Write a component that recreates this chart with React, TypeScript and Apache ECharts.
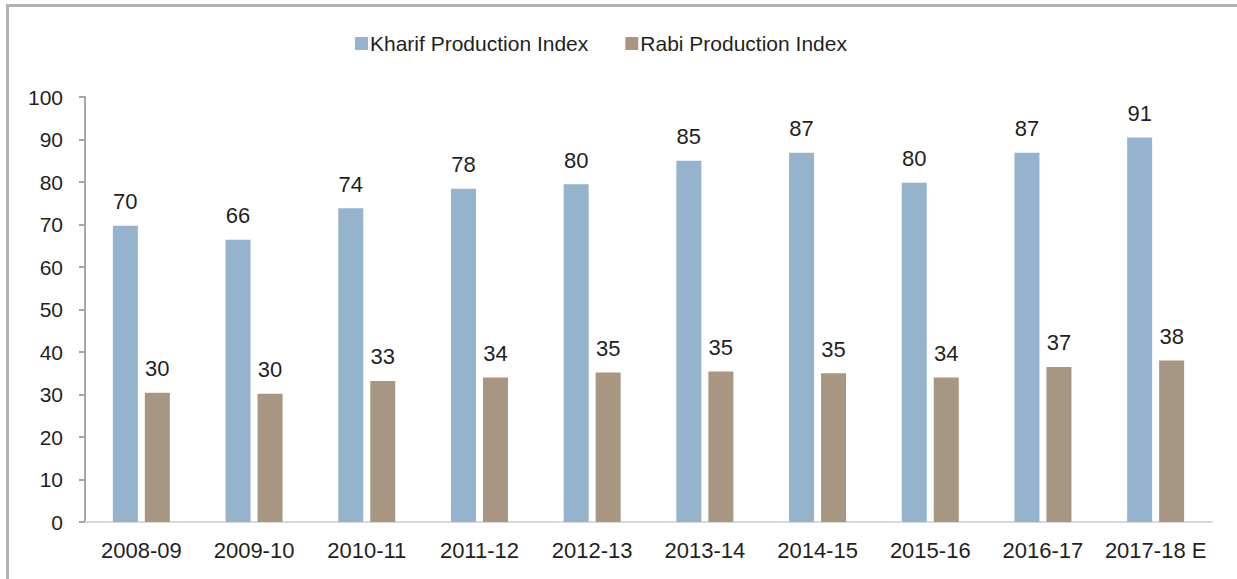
import React, { useEffect, useRef } from "react";
import * as echarts from "echarts";

const categories = ["2008-09", "2009-10", "2010-11", "2011-12", "2012-13", "2013-14", "2014-15", "2015-16", "2016-17", "2017-18 E"];
const kharif = [69.7, 66.4, 73.8, 78.4, 79.5, 85.0, 86.9, 79.8, 86.9, 90.5];
const rabi = [30.4, 30.2, 33.2, 34.0, 35.2, 35.4, 35.0, 34.0, 36.5, 38.0];
const yTicks = [0, 10, 20, 30, 40, 50, 60, 70, 80, 90, 100];

const FONT = "Liberation Sans, Arial, sans-serif";
const TEXT = "#1f1f1f";

export default function App() {
  const ref = useRef<HTMLDivElement>(null);
  useEffect(() => {
    if (!ref.current) return;
    const chart = echarts.init(ref.current, undefined, { renderer: "svg" });
    const label = {
      show: true,
      position: "top",
      distance: 13,
      color: TEXT,
      fontSize: 22,
      fontFamily: FONT,
      formatter: (p: any) => String(Math.round(p.value)),
    };
    chart.setOption({
      animation: false,
      textStyle: { fontFamily: FONT },
      legend: {
        top: 28,
        left: 350,
        itemWidth: 13,
        itemHeight: 13,
        itemGap: 37,
        icon: "rect",
        textStyle: { fontSize: 21, color: TEXT, fontFamily: FONT, padding: [0, 0, 0, -3] },
        data: ["Kharif Production Index", "Rabi Production Index"],
      },
      grid: { left: 85, right: 25, top: 97, bottom: 57, containLabel: false },
      xAxis: {
        type: "category",
        data: categories,
        axisLine: { lineStyle: { color: "#d9d9d9", width: 2 } },
        axisTick: { show: false },
        axisLabel: { color: TEXT, fontSize: 22, fontFamily: FONT, margin: 17, interval: 0 },
      },
      yAxis: {
        type: "value",
        min: yTicks[0],
        max: yTicks[yTicks.length - 1],
        interval: 10,
        axisLine: { show: true, lineStyle: { color: "#a6a6a6", width: 2 } },
        axisTick: { show: true, length: 6, lineStyle: { color: "#a6a6a6", width: 2 } },
        splitLine: { show: false },
        axisLabel: { color: TEXT, fontSize: 21, fontFamily: FONT, margin: 22 },
      },
      series: [
        {
          name: "Kharif Production Index",
          type: "bar",
          data: kharif,
          barWidth: 25,
          barGap: "28%",
          itemStyle: { color: "#95b3cd" },
          label,
        },
        {
          name: "Rabi Production Index",
          type: "bar",
          data: rabi,
          barWidth: 25,
          itemStyle: { color: "#a69682" },
          label,
        },
      ],
      graphic: [
        { type: "rect", left: 6, top: 4, shape: { width: 1231, height: 3 }, style: { fill: "#b3b3b3" }, silent: true },
        { type: "rect", left: 6, top: 4, shape: { width: 3, height: 575 }, style: { fill: "#b3b3b3" }, silent: true },
      ],
    });
    return () => chart.dispose();
  }, []);
  return <div ref={ref} style={{ width: 1237, height: 579, position: "absolute", left: 0, top: 0, background: "#fff" }} />;
}
